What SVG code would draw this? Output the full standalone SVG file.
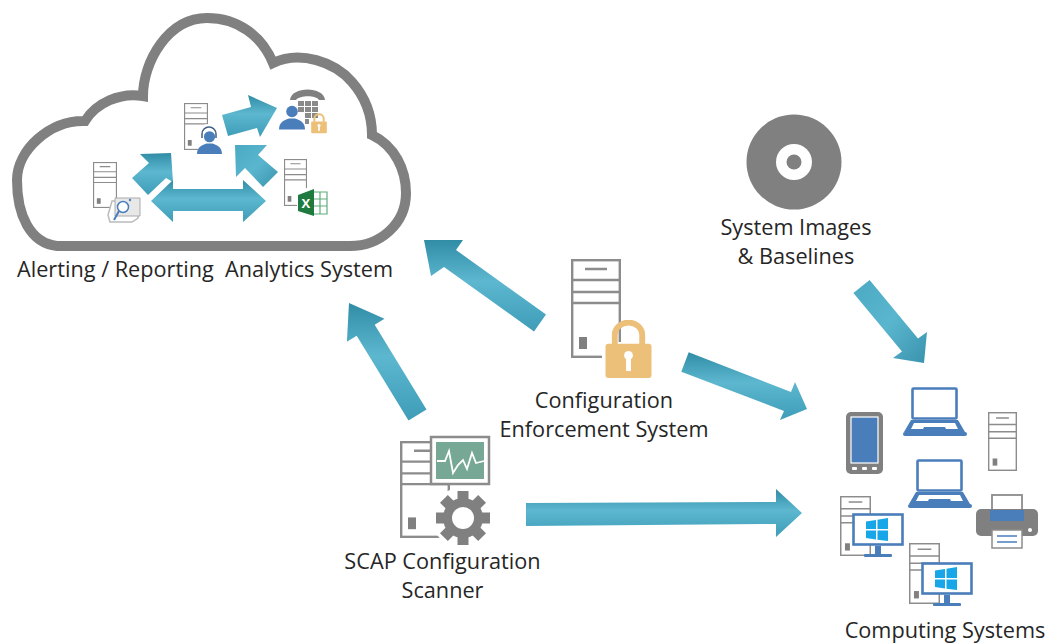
<svg xmlns="http://www.w3.org/2000/svg" width="1052" height="644" viewBox="0 0 1052 644">
<style>
text{font-family:"Open Sans","Noto Sans","Liberation Sans",sans-serif;font-size:21.7px;fill:#262626;white-space:pre}
.arrow{fill:url(#teal)}
.arrowD{fill:url(#tealD)}
.sv{fill:#fff;stroke:#8c8c8c;stroke-width:2.4}
.blue{fill:#4a7ebb}
.bl{fill:#fff;stroke:#4a7ebb;stroke-width:2.6}
.gold{fill:#edc07a}
.gray{fill:#808080}
.win{fill:#17a7e8}
</style>
<defs>
<linearGradient id="teal" x1="0" y1="0" x2="0" y2="1"><stop offset="0" stop-color="#318ca6"/><stop offset=".45" stop-color="#5cb7cf"/><stop offset="1" stop-color="#3f9db8"/></linearGradient>
<linearGradient id="tealD" x1="0" y1="0" x2="1" y2="1"><stop offset="0" stop-color="#4ba9c3"/><stop offset=".5" stop-color="#5ab6ce"/><stop offset="1" stop-color="#3a93ad"/></linearGradient>
<symbol id="srv" viewBox="0 0 50 99" preserveAspectRatio="none">
<rect class="sv" x="1.2" y="1.2" width="47.6" height="96.6"/>
<path d="M14 10H36M1 21H49M1 33H49M1 44H49" fill="none" stroke="#8c8c8c" stroke-width="2.4"/>
<rect x="8" y="78" width="8" height="12" fill="#808080"/>
</symbol>
<symbol id="laptop" viewBox="0 0 64 50">
<rect class="bl" x="9.5" y="1.5" width="44" height="30" rx="1"/>
<path class="blue" d="M8 33H55L62 45H1Z"/>
<path fill="#fff" d="M11 36H52L55 42H43L42 40H21L20 42H8Z"/>
<rect class="blue" x="0" y="45" width="64" height="4" rx="2"/>
</symbol>
<symbol id="monitor" viewBox="0 0 52 46">
<rect class="bl" x="1.5" y="1.5" width="49" height="30"/>
<path class="win" d="M14 8.5L24 7V16H14ZM25.5 6.8L36 5V16H25.5ZM14 17.5H24V26.5L14 25ZM25.5 17.5H36V28L25.5 26.7Z"/>
<rect class="blue" x="23" y="33" width="6" height="9"/>
<rect class="blue" x="12" y="41" width="28" height="3" rx="1"/>
</symbol>
<symbol id="person" viewBox="0 0 26 26">
<circle class="blue" cx="13" cy="7" r="5.8"/>
<path class="blue" d="M0 25C0 17 6 15.500 10 14H16C20 15.500 26 17 26 25Z"/>
</symbol>
<symbol id="lock" viewBox="0 0 48 60">
<rect class="gold" x="0.500" y="24" width="47" height="35" rx="3"/>
<path d="M10 25V15a14 12.500 0 0 1 28 0V25" fill="none" stroke="#edc07a" stroke-width="6"/>
<circle cx="24" cy="36" r="4.500" fill="#fff"/>
<rect x="21.500" y="36" width="5" height="16" fill="#fff"/>
</symbol>
</defs>

<g id="cloud">
<path fill="#fff" stroke="#808080" stroke-width="10" stroke-linejoin="miter" d="M57 246C30 243 17 215 17 180C17 150 50 120 85 121C96 103 120 92 143 96C143 62 168 18 207 18C238 18 262 36 273 63C300 50 335 62 352 82C366 98 372 115 372 135C395 146 406 170 406 193C406 224 380 246 350 246Z"/>
</g>

<g id="connectors">
<polygon class="arrow" points="546,314.500 456,250 463,240 424,240 431,276 444,267 534,331.500"/>
<polygon class="arrow" points="426.500,409.500 374.700,324.800 384.500,318.800 349,303 346.900,341.800 356.700,335.800 408.500,420.500"/>
<polygon class="arrow" points="688.700,352.200 791,392 795,382 807,409 780,420 784,411 681.300,371.800"/>
<polygon class="arrow" points="526,503 776,502 776,489 802,513 776,537 776,524 526,526"/>
<polygon class="arrowD" points="869.600,279.900 918,338.400 927,332 924,363 893,358 902,351.600 853.400,293.100"/>
<polygon class="arrow" points="222,115 251,107 248,95 277,108 260,137 257,128 228,136"/>
<polygon class="arrowD" points="278,172 258,155 267,145 235,145 236,177 245,168 263,187"/>
<polygon class="arrow" points="132,178 149,163 140,154 171,153 173,182 166,178 148,195"/>
<polygon class="arrow" points="151,201 173,180 173,189 243,189 243,180 266,201 243,222 243,211 173,211 173,222"/>
</g>

<g id="analytics-server">
<use href="#srv" x="93" y="162" width="24" height="46"/>
<path fill="#fff" stroke="#bbb" stroke-width="1.500" d="M112 201H138V218L132 222H110L108 215Z"/>
<path fill="#e8e8e8" stroke="#aaa" d="M115 198H140V216H115Z"/>
<circle cx="123" cy="207" r="5.500" fill="#fff" stroke="#4a7ebb" stroke-width="1.500"/>
<path d="M119 211L114 220" stroke="#4a7ebb" stroke-width="2" fill="none"/>
<circle cx="130" cy="200" r="1.200" fill="#4a7ebb"/>
</g>
<g id="operator-server">
<use href="#srv" x="184" y="103" width="24" height="47"/>
<circle cx="209" cy="139" r="15" fill="#fff"/>
<use href="#person" x="197" y="128" width="25" height="29"/>
<path d="M202 138V134a7 7 0 0 1 14 0V138" fill="none" stroke="#3f5f85" stroke-width="1.500"/>
</g>
<g id="phone-user">
<path d="M290 100C291 86 324 86 325 100L319 100C316 95 300 95 296 100Z" fill="#808080"/>
<g fill="#8a8a8a"><rect x="298" y="101" width="6" height="5"/><rect x="305" y="101" width="6" height="5"/><rect x="312" y="101" width="6" height="5"/><rect x="298" y="107" width="6" height="5"/><rect x="305" y="107" width="6" height="5"/><rect x="312" y="107" width="6" height="5"/><rect x="305" y="113" width="6" height="5"/><rect x="312" y="113" width="6" height="5"/><rect x="305" y="119" width="6" height="5"/></g>
<use href="#person" x="279" y="103" width="26" height="29"/>
<rect x="309" y="118" width="20" height="18" fill="#fff"/>
<use href="#lock" x="311" y="113" width="16" height="21"/>
</g>
<g id="excel-server">
<use href="#srv" x="284" y="159" width="23" height="47"/>
<rect x="297" y="188" width="31" height="29" fill="#fff"/>
<path fill="#fff" stroke="#5fae7c" stroke-width="1.200" d="M313 192H327V214H313ZM313 199H327M313 206H327M320 192V214"/>
<polygon points="298,195 314,189 314,216 298,211" fill="#1e7a3e"/>
<text x="301.500" y="208" style="font-size:13px;font-weight:700;fill:#fff">X</text>
</g>

<g id="enforcement">
<use href="#srv" x="571" y="259" width="50" height="99"/>
<rect x="602" y="342" width="52" height="40" fill="#fff"/>
<use href="#lock" x="605" y="320" width="47" height="59"/>
<text x="604" y="408" text-anchor="middle">Configuration</text>
<text x="604" y="437" text-anchor="middle">Enforcement System</text>
</g>

<g id="scanner">
<use href="#srv" x="400" y="441" width="50" height="97"/>
<rect x="431" y="437" width="58" height="47" fill="#fff" stroke="#8c8c8c" stroke-width="2.500"/>
<rect x="436" y="442" width="48" height="37" fill="#76a895"/>
<polyline points="437,461 445,461 449,451 453,473 458,465 463,460 467,469 472,453 476,463 484,461" fill="none" stroke="#fff" stroke-width="1.800"/>
<circle cx="463" cy="518" r="31" fill="#fff"/>
<g class="gray">
<circle cx="463" cy="518" r="20"/>
<rect x="457.500" y="491" width="11" height="54"/>
<rect x="457.500" y="491" width="11" height="54" transform="rotate(45 463 518)"/>
<rect x="457.500" y="491" width="11" height="54" transform="rotate(90 463 518)"/>
<rect x="457.500" y="491" width="11" height="54" transform="rotate(135 463 518)"/>
</g>
<circle cx="463" cy="518" r="11" fill="#fff"/>
<text x="442.500" y="569" text-anchor="middle">SCAP Configuration</text>
<text x="442.500" y="598" text-anchor="middle">Scanner</text>
</g>

<g id="disc">
<circle class="gray" cx="794" cy="162" r="47.500"/>
<circle cx="794" cy="162" r="18" fill="#fff"/>
<circle class="gray" cx="794" cy="162" r="7.500"/>
<text x="796" y="235" text-anchor="middle">System Images</text>
<text x="796" y="264" text-anchor="middle">&amp; Baselines</text>
</g>

<g id="computing-systems">
<rect class="gray" x="846" y="412" width="37" height="62" rx="5"/>
<rect x="851" y="417" width="27" height="46" fill="#4a7ebb" stroke="#fff" stroke-width="1.200"/>
<g fill="#fff"><rect x="852" y="467" width="5" height="3" rx="1"/><rect x="862" y="467" width="5" height="3" rx="1"/><rect x="872" y="467" width="5" height="3" rx="1"/></g>
<use href="#laptop" x="903" y="387" width="64" height="50"/>
<use href="#laptop" x="908" y="459" width="64" height="50"/>
<use href="#srv" x="988" y="412" width="29" height="59"/>
<use href="#srv" x="840" y="496" width="31" height="60"/>
<use href="#monitor" x="852" y="513" width="52" height="46"/>
<use href="#srv" x="909" y="543" width="31" height="61"/>
<use href="#monitor" x="921" y="562" width="52" height="46"/>
<rect x="992" y="495" width="30" height="20" fill="#fff" stroke="#8c8c8c" stroke-width="1.800"/>
<rect class="gray" x="976" y="509" width="62" height="27" rx="5"/>
<rect class="blue" x="990" y="510" width="34" height="11"/>
<rect x="992" y="530" width="30" height="18" fill="#fff" stroke="#8c8c8c" stroke-width="1.500"/>
<path d="M997 536H1017M997 542H1017" stroke="#4a7ebb" stroke-width="1.500"/>
<circle cx="1030" cy="530" r="2" fill="#fff"/>
<text x="945" y="638" text-anchor="middle">Computing Systems</text>
</g>
<text id="analytics-label" x="17" y="277">Alerting / Reporting  Analytics System</text>
</svg>
